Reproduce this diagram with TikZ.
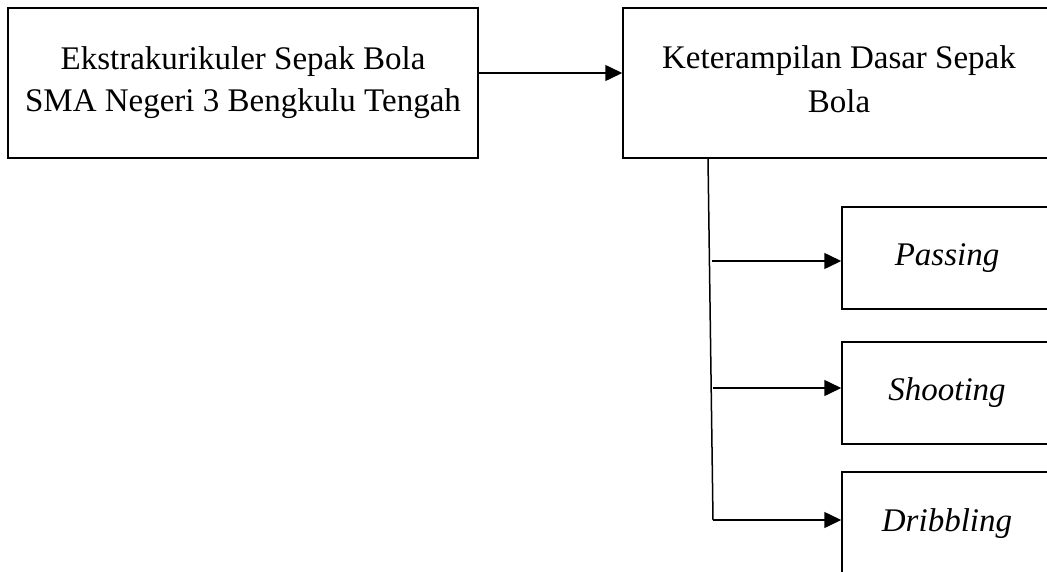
\documentclass[tikz,border=0pt]{standalone}
\usepackage{fontspec}
\setmainfont{Liberation Serif}
\usetikzlibrary{arrows.meta}
\begin{document}
\begin{tikzpicture}[x=1pt,y=-1pt,
  box/.style={draw,line width=1.5pt,rectangle,inner sep=0pt,align=center,
    font=\fontsize{33}{42}\selectfont},
  ibox/.style={box,minimum width=210pt,font=\fontsize{33}{42}\selectfont\itshape},
  conn/.style={line width=1.5pt},
  arr/.style={conn,-{Triangle[length=17pt,width=16pt]}}]
\useasboundingbox (0,0) rectangle (1047,571);
\node[box,minimum width=470pt,minimum height=150pt] (src) at (243,83)
  {Ekstrakurikuler Sepak Bola\\SMA Negeri 3 Bengkulu Tengah\rule[-6pt]{0pt}{0pt}};
\node[box,minimum width=432pt,minimum height=150pt,font=\fontsize{33}{44}\selectfont] (skill) at (839,83)
  {Keterampilan Dasar Sepak\\Bola\rule[-7pt]{0pt}{0pt}};
\node[ibox,minimum height=102pt] (pass) at (947,258) {Passing};
\node[ibox,minimum height=102pt] (shoot) at (947,393) {Shooting};
\node[ibox,minimum height=103pt] (drib) at (947,523.5) {Dribbling};
% connectors
\coordinate (a0) at (478,73);
\draw[arr] (a0) -- (a0 -| skill.west);
\coordinate (vtop) at (708,158);
\coordinate (vbot) at (713,520);
\draw[conn] (vtop) -- (vbot);
\coordinate (b1) at (712,261);
\coordinate (b2) at (713,388);
\draw[arr] (b1) -- (b1 -| pass.west);
\draw[arr] (b2) -- (b2 -| shoot.west);
\draw[arr] (vbot) -- (vbot -| drib.west);
\end{tikzpicture}
\end{document}
